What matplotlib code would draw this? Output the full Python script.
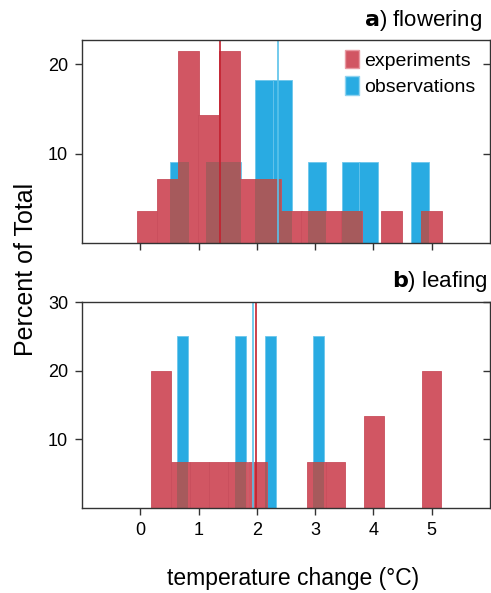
import numpy as np
import matplotlib
matplotlib.use('Agg')
import matplotlib.pyplot as plt
from matplotlib.patches import Patch

plt.rcParams['font.family'] = ['Liberation Sans', 'DejaVu Sans']

# flowering (a)
flow_exp_x = [0.12, 0.475, 0.83, 1.175, 1.53, 1.895, 2.235, 2.59, 2.94, 3.28, 3.62, 4.31, 5.0]
flow_exp_pct = [3.57, 7.14, 21.43, 14.29, 21.43, 7.14, 7.14, 3.57, 3.57, 3.57, 3.57, 3.57, 3.57]
flow_obs_x = [0.675, 1.29, 1.56, 2.135, 2.44, 3.03, 3.615, 3.92, 4.80]
flow_obs_pct = [9.09, 9.09, 9.09, 18.18, 18.18, 9.09, 9.09, 9.09, 9.09]
flow_exp_mean = 1.37
flow_obs_mean = 2.37

# leafing (b)
leaf_exp_x = [0.355, 0.69, 1.015, 1.34, 1.67, 2.01, 3.02, 3.35, 4.01, 5.0]
leaf_exp_pct = [20.0, 6.67, 6.67, 6.67, 6.67, 6.67, 6.67, 6.67, 13.33, 20.0]
leaf_obs_x = [0.73, 1.72, 2.23, 3.06]
leaf_obs_pct = [25.0, 25.0, 25.0, 25.0]
leaf_exp_mean = 1.99
leaf_obs_mean = 1.94

RED = '#D15663'
BLUE = '#29ABE2'
DARK = '#A65A5C'


def draw_panel(ax, ex, ep, ew, ox, op, ow, emean, omean):
    ax.bar(ox, op, width=ow, color=BLUE, edgecolor='#6CC6EC', linewidth=0.6)
    ax.bar(ex, ep, width=ew, color=RED, edgecolor='#C94E5C', linewidth=0.6)
    # where experiments cover observations the colours mix darker
    for x1, h1 in zip(ex, ep):
        for x2, h2 in zip(ox, op):
            lo = max(x1 - ew / 2, x2 - ow / 2)
            hi = min(x1 + ew / 2, x2 + ow / 2)
            if hi > lo:
                ax.bar(lo, min(h1, h2), width=hi - lo, align='edge',
                       color=DARK, linewidth=0)
    ax.axvline(emean, color='#C3202F', lw=1.2)
    ax.axvline(omean, color='#5BC2EA', lw=1.2)
    ax.set_xlim(-1, 6)
    ax.set_xticks(range(6))
    for s in ax.spines.values():
        s.set_color('#333333')
        s.set_linewidth(1.0)
    ax.tick_params(axis='both', direction='out', length=5, color='#333333',
                   labelsize=13, width=1.0, pad=5)
    ax.tick_params(axis='y', right=True)
    for t in ax.yaxis.get_major_ticks():
        t.tick2line.set_marker(matplotlib.lines.TICKLEFT)


fig = plt.figure(figsize=(4.91, 5.93), dpi=100)
ax1 = fig.add_axes([0.167, 0.590, 0.831, 0.3425])
ax2 = fig.add_axes([0.167, 0.1433, 0.831, 0.3474])

draw_panel(ax1, flow_exp_x, flow_exp_pct, 0.36, flow_obs_x, flow_obs_pct, 0.32,
           flow_exp_mean, flow_obs_mean)
draw_panel(ax2, leaf_exp_x, leaf_exp_pct, 0.335, leaf_obs_x, leaf_obs_pct, 0.19,
           leaf_exp_mean, leaf_obs_mean)

ax1.set_ylim(0, 22.7)
ax1.set_yticks([10, 20])
ax1.set_xticklabels([])
ax2.set_ylim(0, 30)
ax2.set_yticks([10, 20, 30])

ax1.text(0.98, 1.035, r'$\mathbf{a}$) flowering', transform=ax1.transAxes,
         ha='right', va='bottom', fontsize=16)
ax2.text(0.995, 1.04, r'$\mathbf{b}$) leafing', transform=ax2.transAxes,
         ha='right', va='bottom', fontsize=16)

ax1.legend(handles=[Patch(facecolor=RED, edgecolor='#E89AA3', label='experiments'),
                    Patch(facecolor=BLUE, edgecolor='#8FD3F0', label='observations')],
           loc='upper right', bbox_to_anchor=(0.993, 1.01), frameon=False,
           fontsize=14, handlelength=0.75, handleheight=1.1, handletextpad=0.25,
           labelspacing=0.35, borderaxespad=0.2)

fig.text(0.053, 0.545, 'Percent of Total', rotation=90, ha='center', va='center',
         fontsize=18)
fig.text(0.597, 0.025, 'temperature change (°C)', ha='center', va='center',
         fontsize=16.5)

fig.savefig('out.png', dpi=100)
